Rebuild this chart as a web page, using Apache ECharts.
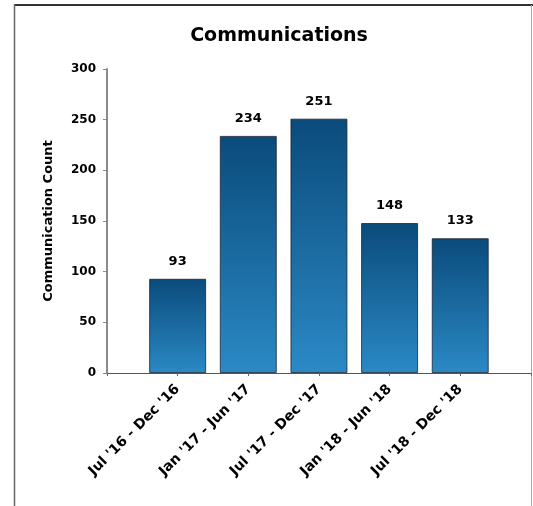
<!DOCTYPE html>
<html>
<head>
<meta charset="utf-8">
<script src="https://cdn.jsdelivr.net/npm/echarts@6/dist/echarts.min.js"></script>
<style>
html,body{margin:0;padding:0;background:#fff;}
#chart{width:533px;height:506px;}
</style>
</head>
<body>
<div id="chart"></div>
<script>
const titleText = 'Communications';
const yAxisName = 'Communication Count';
const categories = ["Jul '16 - Dec '16", "Jan '17 - Jun '17", "Jul '17 - Dec '17", "Jan '18 - Jun '18", "Jul '18 - Dec '18"];
const counts = [93, 234, 251, 148, 133];
const yTicks = [0, 50, 100, 150, 200, 250, 300];

const FONT = '"DejaVu Sans", Arial, sans-serif';
const axisCats = [''].concat(categories, ['']);
const barData = categories.map((c, i) => [c, counts[i]]);

const chart = echarts.init(document.getElementById('chart'), null, {renderer: 'canvas'});
chart.setOption({
  animation: false,
  backgroundColor: '#fff',
  title: {
    text: titleText, left: 274, top: 22, textAlign: 'center',
    textStyle: {fontFamily: FONT, fontSize: 19, fontWeight: 'bold', color: '#000'}
  },
  graphic: [
    {type: 'line', shape: {x1: 14, y1: 5, x2: 533, y2: 5}, style: {stroke: '#333', lineWidth: 2}},
    {type: 'line', shape: {x1: 14.5, y1: 4, x2: 14.5, y2: 506}, style: {stroke: '#666', lineWidth: 1.5}},
    {type: 'line', shape: {x1: 531.5, y1: 5, x2: 531.5, y2: 506}, style: {stroke: '#aaa', lineWidth: 1}}
  ],
  grid: {left: 107, top: 69, right: -1, bottom: 133, containLabel: false},
  xAxis: {
    type: 'category', data: axisCats, boundaryGap: false,
    axisLine: {lineStyle: {color: '#555', width: 1}},
    axisTick: {show: true, length: 3, lineStyle: {color: '#666'}},
    axisLabel: {rotate: 45, interval: 0, margin: 14, fontFamily: FONT, fontSize: 14, fontWeight: 'bold', color: '#000'},
    splitLine: {show: false}
  },
  yAxis: {
    type: 'value', min: yTicks[0], max: yTicks[yTicks.length - 1], interval: yTicks[1] - yTicks[0],
    name: yAxisName, nameLocation: 'middle', nameGap: 52,
    nameTextStyle: {fontFamily: FONT, fontSize: 13, fontWeight: 'bold', color: '#000'},
    axisLine: {show: true, lineStyle: {color: '#8a8a8a', width: 2}},
    axisTick: {show: true, length: 4, lineStyle: {color: '#8a8a8a'}},
    axisLabel: {margin: 11, fontFamily: FONT, fontSize: 12, fontWeight: 'bold', color: '#000'},
    splitLine: {show: false}
  },
  series: [{
    type: 'bar', data: barData, barWidth: 57,
    itemStyle: {
      color: new echarts.graphic.LinearGradient(0, 0, 0, 1, [
        {offset: 0, color: '#0a4b7b'}, {offset: 1, color: '#2b89c5'}
      ]),
      borderColor: 'rgba(20,30,45,0.75)', borderWidth: 1
    },
    label: {show: true, position: 'top', distance: 11, fontFamily: FONT, fontSize: 13, fontWeight: 'bold', color: '#000'}
  }]
});
</script>
</body>
</html>
